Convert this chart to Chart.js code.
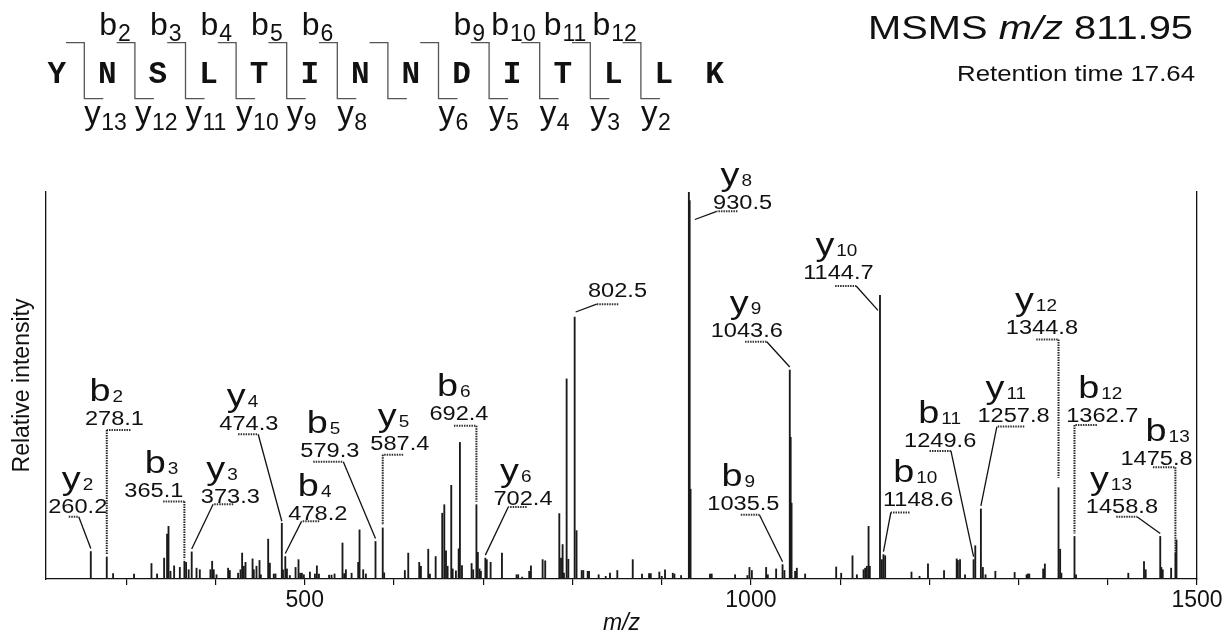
<!DOCTYPE html>
<html><head><meta charset="utf-8">
<script src="https://cdn.jsdelivr.net/npm/chart.js@4.4.1/dist/chart.umd.min.js"></script>
<style>html,body{margin:0;padding:0;background:#fff;}canvas{display:block;}</style>
</head><body>
<canvas id="c" width="1232" height="639"></canvas>
<script>
// ================= DATA =================
const peakMz = [260.2,278.1,285.2,308.7,328.2,334.5,342.4,345.7,347.3,349.5,353.6,360.0,365.1,367.0,369.9,373.3,378.7,382.4,394.3,396.2,398.0,401.1,414.1,416.0,425.3,428.0,429.8,431.7,433.6,441.5,442.9,445.9,449.3,450.8,459.0,460.9,465.3,467.2,474.3,475.6,478.2,480.0,483.3,489.7,493.0,494.9,496.8,499.0,505.8,511.4,513.6,515.9,527.3,530.0,533.4,542.3,544.2,546.1,552.5,559.9,561.4,565.5,568.5,579.3,587.4,589.0,612.2,616.0,628.3,630.2,638.4,640.3,646.7,654.1,656.4,658.3,660.1,664.2,665.8,669.4,672.5,673.9,676.2,687.0,688.8,692.4,694.0,695.9,697.4,702.4,704.0,708.3,721.0,737.4,739.2,743.7,751.6,753.5,766.6,769.5,785.3,787.2,789.0,790.5,793.5,795.4,802.5,804.6,810.4,812.2,817.1,818.6,829.4,837.3,842.1,850.3,867.6,878.0,885.9,887.8,897.4,900.1,903.8,912.5,914.3,921.8,930.5,931.4,932.4,954.2,956.1,982.3,996.1,998.4,1001.1,1017.1,1019.0,1028.3,1035.5,1037.6,1043.6,1044.6,1045.6,1049.6,1051.5,1060.8,1095.6,1101.2,1113.9,1118.8,1126.3,1128.1,1130.0,1131.9,1133.3,1144.7,1146.8,1148.6,1150.5,1180.0,1189.0,1198.5,1216.5,1230.7,1232.0,1234.4,1240.0,1249.6,1251.5,1257.8,1260.0,1263.0,1274.0,1295.6,1309.0,1310.5,1312.0,1327.6,1329.5,1344.8,1346.6,1348.0,1362.7,1364.4,1423.0,1440.6,1442.5,1458.8,1460.0,1461.6,1471.0,1475.8,1477.0];
const peakIntensity = [7.1,5.7,1.4,1.3,4.0,1.3,5.4,11.6,13.6,2.0,3.4,3.0,4.6,4.3,2.4,7.0,2.8,2.4,2.4,4.6,2.4,1.1,2.8,2.2,1.5,2.4,6.7,3.3,4.3,5.2,2.4,3.3,4.8,1.1,10.3,4.1,1.3,1.3,14.4,2.4,5.8,2.6,0.9,3.0,5.0,1.5,1.5,1.1,1.8,1.3,3.4,1.3,1.0,1.0,1.3,9.3,1.4,2.4,1.5,4.3,12.7,2.4,1.3,9.7,13.2,1.6,2.2,6.7,4.3,3.3,7.7,1.3,5.8,17.0,19.2,7.3,3.3,24.2,2.6,2.1,7.8,35.3,3.5,4.0,2.4,19.2,6.9,2.6,2.0,5.4,5.0,4.3,6.7,1.1,1.1,0.5,2.0,3.4,5.0,4.7,16.9,5.4,8.9,1.5,51.7,5.1,67.7,12.5,2.2,2.2,2.0,2.0,1.1,0.7,1.5,2.2,5.0,1.3,1.4,1.4,1.8,0.7,2.4,1.5,1.3,0.9,100,97.8,23.2,1.3,1.3,1.1,0.9,3.0,2.2,3.0,1.1,2.6,3.7,2.2,54.0,36.6,19.6,2.0,2.8,1.3,3.1,1.5,6.0,1.1,2.4,2.8,3.3,13.6,3.3,73.3,5.0,6.3,6.0,1.8,0.7,3.9,2.2,5.2,4.8,5.0,1.1,5.0,8.6,18.1,3.0,1.1,2.0,1.7,1.1,1.3,1.3,2.6,3.9,23.6,7.7,1.5,11.0,1.1,1.5,4.5,2.4,11.0,3.0,2.4,2.8,6.7,10.1];
const xTickValues = [300,400,500,600,700,800,900,1000,1100,1200,1300,1400,1500];
const xTickLabels = [500, 1000, 1500];

// Peptide sequence header
const sequence = ['Y','N','S','L','T','I','N','N','D','I','T','L','L','K'];
const cleavageGaps = [0,1,2,3,4,5,6,7,8,9,10,11];
const bIonsFound = [2,3,4,5,6,9,10,11,12];
const yIonsFound = [13,12,11,10,9,8,6,5,4,3,2];
const titleParts = ['MSMS ', 'm/z', ' 811.95'];
const subtitle = 'Retention time 17.64';

// Annotated peaks
const annIon = ['y','b','b','y','y','b','b','y','b','y','','y','y','y','b','b','b','y','y','b','b','y'];
const annSub = ['2','2','3','3','4','4','5','5','6','6','','8','9','10','9','10','11','11','12','12','13','13'];
const annMz  = [260.2,278.1,365.1,373.3,474.3,478.2,579.3,587.4,692.4,702.4,802.5,930.5,1043.6,1144.7,1035.5,1148.6,1249.6,1257.8,1344.8,1362.7,1475.8,1458.8];

// ================= LAYOUT (annotation placement, in axis units) =================
const annTextX  = [245.6,286.7,330.8,416.6,437.3,514.7,528.1,606.6,672.8,744.6,850.5,990.7,995.4,1098.1,991.6,1187.5,1212.2,1294.4,1326.2,1393.8,1454.7,1415.9];
const annTextY  = [17.1,39.8,21.3,19.7,38.5,15.3,31.6,33.3,41.1,19.2,72.9,95.7,62.6,77.6,17.9,18.9,34.2,40.6,63.2,40.6,29.5,17.0];
const annElbowX = [246.7,278.1,365.1,397.3,447.8,496.4,543.2,587.4,692.4,728.1,827.2,961.8,1017.8,1118.0,1009.5,1156.9,1224.2,1275.7,1344.8,1362.7,1475.8,1432.7];
const annFarX   = [235.5,304.7,341.3,419.8,425.3,516.2,509.5,610.3,667.2,748.7,851.4,984.9,993.5,1094.4,988.7,1177.8,1200.2,1306.4,1319.8,1387.8,1450.6,1409.5];
const annHookY  = [16.1,38.5,20.0,19.3,37.4,14.9,30.3,32.1,39.6,18.6,71.0,95.0,61.3,75.7,16.6,17.2,33.1,39.4,61.9,39.8,28.9,16.1];
const annIonDx  = [-16,-25,-9,-24,-22,-20,-23,-22,-22,-23,0,-22,-17,-23,-22,-25,-22,-28,-27,-24,-11,-32];
const annEndDx  = [0,0,0,0,0,0,0,0,0,0,1,6,0,-2,0,0,0,0,0,0,0,0];
const annEndDy  = [-3,-2,-2,-3,-2,-3,-3,-3,-3,-3,-5,27.5,-3,15,-3,-3,-3,-3,-10,-3,0,-3];

const SANS = '"Liberation Sans", Arial, sans-serif';

function drawText(ctx, text, x, y, font, sx, align) {
  ctx.save();
  ctx.font = font;
  const w = ctx.measureText(text).width * sx;
  let left = x;
  if (align === 'center') left = x - w / 2;
  else if (align === 'right') left = x - w;
  ctx.translate(left, y);
  ctx.scale(sx, 1);
  ctx.textAlign = 'left';
  ctx.textBaseline = 'alphabetic';
  ctx.fillText(text, 0, 0);
  ctx.restore();
  return w;
}

const annotPlugin = {
  id: 'msAnnot',
  afterDraw(chart) {
    const ctx = chart.ctx;
    const xs = chart.scales.x, ys = chart.scales.y;
    ctx.save();
    ctx.fillStyle = '#111';
    ctx.strokeStyle = '#111';

    // ---------- spectrum annotations ----------
    for (let i = 0; i < annMz.length; i++) {
      const k = peakMz.findIndex(m => Math.abs(m - annMz[i]) < 0.01);
      const px = xs.getPixelForValue(peakMz[k]);
      const py = ys.getPixelForValue(peakIntensity[k]);
      const tx = xs.getPixelForValue(annTextX[i]);
      const ty = ys.getPixelForValue(annTextY[i]);
      drawText(ctx, annMz[i].toFixed(1), tx, ty, '20px ' + SANS, 1.18, 'center');
      if (annIon[i]) {
        const ix = tx + annIonDx[i], iy = ty - 24;
        const w = drawText(ctx, annIon[i], ix, iy, '31px ' + SANS, 1.22, 'left');
        drawText(ctx, annSub[i], ix + w + 2, iy + 1, '16.5px ' + SANS, 1.15, 'left');
      }
      const ex = xs.getPixelForValue(annElbowX[i]);
      const fx = xs.getPixelForValue(annFarX[i]);
      const hy = ys.getPixelForValue(annHookY[i]);
      const endX = px + annEndDx[i], endY = py + annEndDy[i];
      ctx.save();
      ctx.lineWidth = 2; ctx.strokeStyle = '#333';
      ctx.setLineDash([1.5, 1]);
      ctx.beginPath(); ctx.moveTo(fx, hy); ctx.lineTo(ex, hy); ctx.stroke();
      ctx.restore();
      ctx.save();
      const vertical = Math.abs(ex - endX) < 3;
      if (vertical) { ctx.setLineDash([1.5, 1]); ctx.lineWidth = 2; ctx.strokeStyle = '#222'; }
      else { ctx.lineWidth = 1.3; ctx.strokeStyle = '#111'; }
      ctx.beginPath(); ctx.moveTo(ex, hy); ctx.lineTo(endX, endY); ctx.stroke();
      ctx.restore();
    }

    // ---------- header: peptide sequence ----------
    const x0 = 56.7, step = 50.6, base = 83.3;
    ctx.font = 'bold 31px "Liberation Mono", "Courier New", monospace';
    ctx.textAlign = 'center'; ctx.textBaseline = 'alphabetic';
    sequence.forEach((aa, k) => ctx.fillText(aa, x0 + step * k, base));
    ctx.textAlign = 'left';
    ctx.strokeStyle = '#555'; ctx.lineWidth = 1.3;
    cleavageGaps.forEach(g => {
      const xv = x0 + step * g + 27.6;
      ctx.beginPath();
      ctx.moveTo(xv - 18.3, 42.7); ctx.lineTo(xv, 42.7); ctx.lineTo(xv, 98.7); ctx.lineTo(xv + 19, 98.7);
      ctx.stroke();
    });
    bIonsFound.forEach(n => {
      const xv = x0 + step * (n - 1) + 27.6;
      ctx.font = '23px ' + SANS;
      const ws = ctx.measureText(String(n)).width;
      ctx.font = '32px ' + SANS;
      const wb = ctx.measureText('b').width;
      const left = xv - 4 - ws - wb - 1;
      ctx.fillText('b', left, 35);
      ctx.font = '23px ' + SANS;
      ctx.fillText(String(n), left + wb + 1, 40.7);
    });
    yIonsFound.forEach(m => {
      const xv = x0 + step * (13 - m) + 27.6;
      ctx.font = '33px ' + SANS;
      const wy = ctx.measureText('y').width;
      ctx.fillText('y', xv, 124);
      ctx.font = '23px ' + SANS;
      ctx.fillText(String(m), xv + wy + 0.5, 130);
    });

    // ---------- header: title ----------
    ctx.font = '33px ' + SANS;
    const w1 = ctx.measureText(titleParts[0]).width, w3 = ctx.measureText(titleParts[2]).width;
    ctx.font = 'italic 33px ' + SANS;
    const w2 = ctx.measureText(titleParts[1]).width;
    const sT = 325 / (w1 + w2 + w3);
    let tx0 = 1193 - 325;
    tx0 += drawText(ctx, titleParts[0], tx0, 39.3, '33px ' + SANS, sT, 'left');
    tx0 += drawText(ctx, titleParts[1], tx0, 39.3, 'italic 33px ' + SANS, sT, 'left');
    drawText(ctx, titleParts[2], tx0, 39.3, '33px ' + SANS, sT, 'left');
    ctx.font = '22px ' + SANS;
    const sR = 238 / ctx.measureText(subtitle).width;
    drawText(ctx, subtitle, 1195, 81, '22px ' + SANS, sR, 'right');
    ctx.restore();
  }
};

const chart = new Chart(document.getElementById('c').getContext('2d'), {
  type: 'bar',
  data: {
    datasets: [{
      data: peakMz.map((m, i) => ({ x: m, y: peakIntensity[i] })),
      backgroundColor: '#1a1a1a',
      borderWidth: 0,
      barThickness: 1.2,
      xAxisID: 'x', yAxisID: 'y'
    }]
  },
  options: {
    responsive: false,
    animation: false,
    devicePixelRatio: 1,
    layout: { padding: { left: 4, right: 35, top: 192, bottom: 0 } },
    plugins: { legend: { display: false }, tooltip: { enabled: false }, title: { display: false } },
    scales: {
      x: {
        type: 'linear', min: 210, max: 1500, offset: false, position: 'bottom',
        grid: { display: true, drawOnChartArea: false, drawTicks: true, tickLength: 6, color: '#111', lineWidth: 1.2, offset: false },
        border: { display: true, color: '#111', width: 1.3 },
        ticks: {
          autoSkip: false, maxRotation: 0, padding: 2,
          color: '#111', font: { family: SANS, size: 23 },
          callback: (v) => xTickLabels.includes(v) ? String(v) : ''
        },
        afterBuildTicks: (s) => { s.ticks = xTickValues.map(v => ({ value: v })); },
        title: { display: true, text: 'm/z', color: '#111', font: { family: SANS, size: 23, style: 'italic' }, padding: { top: 0, bottom: 2 } },
        afterFit: (s) => { s.height = 60; }
      },
      y: {
        min: 0, max: 100, position: 'left',
        grid: { display: false, drawTicks: false },
        ticks: { display: false },
        border: { display: true, color: '#111', width: 1.3 },
        title: { display: true, text: 'Relative intensity', color: '#111', font: { family: SANS, size: 23 }, padding: { top: 4.5, bottom: 0 } },
        afterFit: (s) => { s.width = 42; }
      },
      yR: {
        min: 0, max: 100, position: 'right',
        grid: { display: false, drawTicks: false },
        ticks: { display: false },
        border: { display: true, color: '#111', width: 1.3 },
        afterFit: (s) => { s.width = 0; }
      }
    }
  },
  plugins: [annotPlugin]
});
</script>
</body></html>
